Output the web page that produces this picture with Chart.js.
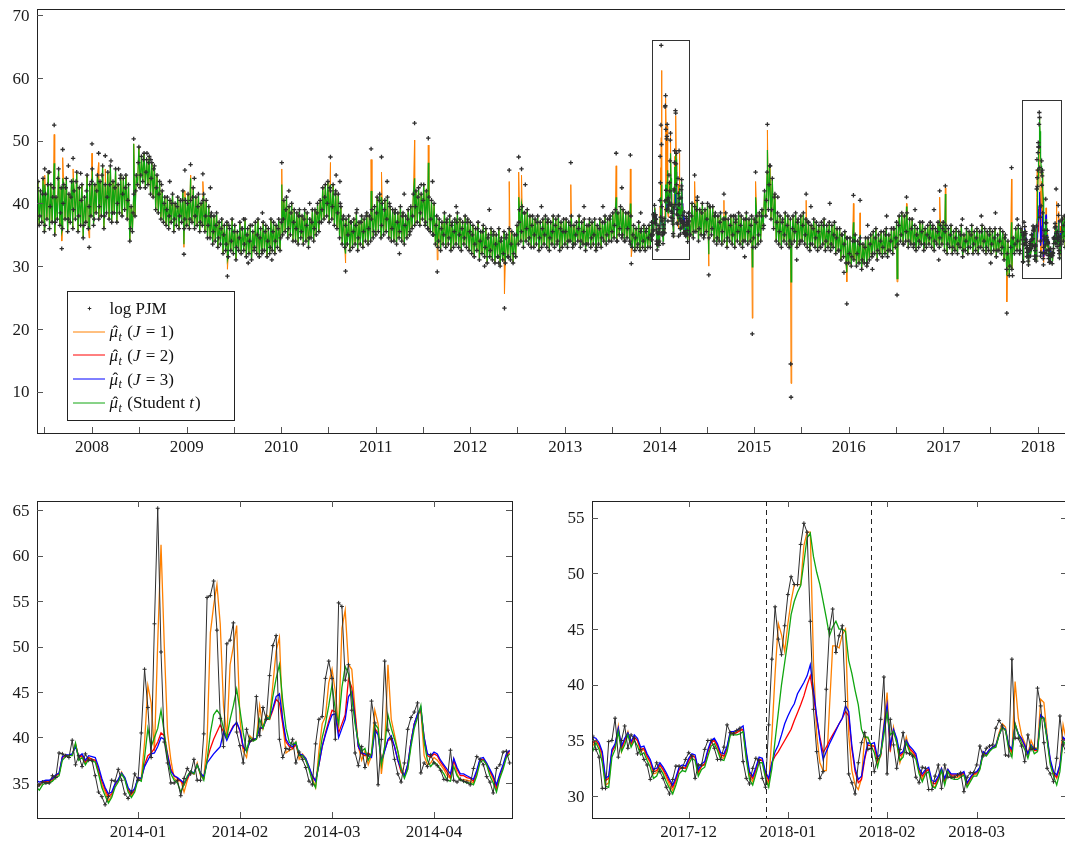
<!DOCTYPE html>
<html>
<head>
<meta charset="utf-8"/>
<title>log PJM</title>
<script src="https://cdn.jsdelivr.net/npm/chart.js"></script>
<style>
  html, body { margin: 0; padding: 0; background: #fff; overflow: hidden; }
  canvas { position: absolute; }
</style>
</head>
<body>
<canvas id="topChart" width="1080" height="470" style="left:0px;top:0px"></canvas>
<canvas id="leftChart" width="540" height="363" style="left:0px;top:480px"></canvas>
<canvas id="rightChart" width="540" height="363" style="left:540px;top:480px"></canvas>

<script>
// ---------- data ----------

// top panel: low / high edge of the log PJM band for each 10-day window outside the zoom windows
const bandAStart = '2007-06-01';
const bandALo = [
  // 2007
  37.5, 36.5, 37.0, 35.5, 37.5, 36.0, 37.0, 35.0, 37.5, 36.5, 36.0, 37.5, 35.5, 37.0, 36.0, 37.5, 35.5, 36.5, 34.5, 37.0, 36.0,
  // 2008
  38.0, 36.5, 38.5, 37.5, 38.0, 36.0, 38.5, 37.5, 37.0, 38.5, 37.0, 38.5, 38.0, 39.0, 37.5, 34.0, 35.5, 38.0, 43.0, 42.5,
  43.5, 42.5, 43.0, 41.5, 41.0, 39.0, 38.5, 37.5, 37.0, 36.5, 36.0, 37.0, 35.5, 36.5, 36.0, 37.0, 36.0,
  // 2009
  36.5, 36.0, 37.0, 36.0, 36.5, 35.5, 36.5, 35.5, 34.5, 34.5, 33.5, 34.0, 33.0, 33.5, 32.0, 32.5, 31.5, 32.5, 32.0, 31.0,
  32.5, 32.0, 32.5, 31.5, 32.0, 31.0, 32.5, 32.0, 31.5, 32.0, 32.5, 31.5, 32.0, 32.5, 32.0, 33.0, 32.5,
  // 2010
  35.0, 35.5, 34.5, 35.0, 34.0, 34.0, 33.5, 34.5, 33.5, 34.0, 33.0, 34.5, 34.0, 35.0, 35.5, 37.0, 37.5, 38.0, 37.0, 37.5,
  36.5, 36.0, 34.5, 33.5, 33.0, 33.5, 32.5, 33.0, 33.5, 32.5, 33.5, 33.0, 34.0, 33.5, 34.0, 34.5,
  // 2011
  35.0, 35.5, 34.5, 35.0, 35.5, 34.5, 34.0, 34.0, 33.5, 34.5, 34.0, 33.5, 34.5, 35.0, 36.0, 36.5, 37.0, 36.5, 37.5, 36.5,
  36.0, 35.5, 35.0, 33.5, 33.0, 32.5, 33.5, 33.0, 33.5, 32.5, 33.0, 33.5, 33.0, 32.5, 33.5, 33.0, 32.5,
  // 2012
  32.0, 31.5, 32.5, 31.0, 32.0, 31.5, 30.5, 31.5, 31.0, 30.5, 31.5, 30.0, 31.0, 30.5, 31.5, 31.0, 30.5, 31.5, 33.5, 34.0,
  33.0, 34.0, 33.5, 33.0, 33.0, 33.5, 32.5, 33.0, 33.5, 33.0, 32.5, 33.5, 33.0, 33.5, 32.5, 33.0,
  // 2013
  33.5, 33.0, 34.0, 33.0, 33.5, 34.0, 33.0, 33.5, 32.5, 33.5, 33.0, 33.5, 32.5, 33.5, 33.0, 34.0, 33.5, 34.0, 34.0, 34.5,
  34.0, 35.0, 34.5, 34.0, 34.5, 34.0, 33.0, 32.5, 33.0, 32.5, 33.0, 32.5, 33.0, 33.0
];
const bandAHi = [
  // 2007
  43.5, 42.0, 44.0, 41.5, 45.0, 43.0, 42.5, 41.0, 45.5, 42.5, 43.0, 44.0, 41.5, 43.5, 42.0, 45.0, 42.5, 43.0, 41.0, 44.5, 43.0,
  // 2008
  45.5, 43.0, 44.5, 43.5, 46.0, 43.0, 45.0, 46.0, 43.5, 45.5, 43.0, 44.5, 44.0, 44.5, 43.0, 39.5, 41.5, 44.5, 49.0, 47.5,
  48.0, 47.0, 47.5, 46.5, 46.0, 44.5, 43.5, 42.0, 41.0, 41.0, 40.5, 41.5, 40.0, 41.0, 40.5, 42.0, 40.5,
  // 2009
  41.5, 40.5, 42.5, 41.0, 41.5, 40.0, 41.5, 40.5, 39.5, 38.5, 38.0, 38.5, 37.0, 37.5, 36.5, 37.0, 36.0, 37.5, 36.5, 35.5,
  37.0, 36.0, 37.5, 36.0, 36.5, 35.5, 37.0, 37.5, 36.0, 37.0, 36.5, 36.0, 37.5, 37.0, 36.5, 37.5, 37.0,
  // 2010
  40.5, 41.0, 39.5, 40.0, 39.0, 38.5, 39.0, 38.0, 39.0, 38.5, 37.5, 39.0, 39.0, 40.0, 40.5, 42.5, 43.0, 43.5, 42.0, 43.0,
  42.0, 41.5, 39.5, 38.0, 37.5, 38.0, 37.0, 37.5, 38.5, 37.0, 38.0, 37.5, 38.5, 38.0, 39.0, 39.5,
  // 2011
  41.0, 41.5, 40.0, 40.5, 41.0, 39.5, 39.0, 39.0, 38.5, 39.5, 38.5, 38.0, 39.0, 39.5, 41.5, 42.0, 42.5, 41.5, 43.0, 42.0,
  41.0, 40.5, 40.0, 38.0, 37.5, 37.0, 38.5, 37.5, 38.0, 37.0, 37.5, 38.5, 37.5, 37.0, 38.0, 37.5, 37.0,
  // 2012
  36.5, 36.0, 37.0, 35.5, 36.5, 36.0, 35.0, 36.0, 35.5, 35.0, 36.0, 34.5, 35.5, 35.0, 36.0, 35.5, 35.0, 36.5, 39.0, 39.5,
  38.5, 39.0, 38.0, 38.0, 37.5, 38.0, 37.0, 37.5, 38.0, 37.5, 37.0, 38.0, 37.5, 38.0, 37.0, 37.5,
  // 2013
  37.5, 37.0, 38.0, 36.5, 37.0, 38.0, 37.0, 37.5, 36.5, 37.5, 37.0, 37.5, 36.5, 37.5, 37.0, 38.0, 37.5, 38.0, 38.5, 39.0,
  38.5, 39.5, 39.0, 38.5, 38.5, 38.0, 36.5, 36.0, 37.0, 36.0, 36.5, 36.0, 36.5, 37.0
];
// one more log PJM reading inside the band for each window
const bandAIn = [
  // 2007
  42.5, 38.0, 41.5, 36.5, 43.0, 39.5, 41.0, 37.0, 44.0, 38.5, 40.0, 42.5, 37.5, 41.0, 39.0, 43.5, 38.0, 40.5, 36.5, 42.0, 39.5,
  // 2008
  43.5, 37.5, 42.0, 39.5, 44.5, 38.0, 41.0, 43.0, 38.5, 42.5, 40.0, 44.0, 41.5, 42.5, 40.5, 36.0, 38.5, 42.0, 46.5, 44.5,
  47.0, 45.0, 46.5, 44.0, 45.5, 42.5, 41.5, 43.0, 40.0, 39.0, 38.0, 40.0, 37.5, 39.5, 38.0, 40.5, 37.5,
  // 2009
  40.0, 37.5, 41.0, 38.0, 39.5, 37.0, 40.5, 38.0, 36.5, 38.0, 35.5, 36.5, 34.5, 36.0, 35.0, 33.5, 36.5, 34.0, 35.5, 33.0,
  34.5, 36.0, 33.5, 35.0, 34.0, 36.5, 33.0, 35.0, 34.5, 32.5, 35.5, 34.0, 33.0, 35.5, 34.0, 36.0, 34.5,
  // 2010
  37.5, 39.0, 36.0, 38.5, 37.0, 36.0, 38.0, 35.5, 37.5, 36.5, 34.5, 37.0, 36.0, 38.5, 37.0, 39.0, 41.0, 40.0, 42.5, 39.5,
  41.5, 38.5, 40.0, 37.5, 36.5, 35.0, 37.0, 35.5, 36.5, 34.5, 37.0, 35.5, 38.0, 36.0, 37.5, 35.5,
  // 2011
  38.5, 40.5, 36.5, 39.0, 37.5, 40.0, 36.0, 38.5, 37.0, 35.5, 38.0, 36.5, 37.5, 35.5, 38.0, 39.5, 41.0, 38.5, 40.5, 37.0,
  36.0, 37.5, 35.0, 36.5, 34.0, 36.0, 35.0, 37.0, 34.5, 36.5, 35.5, 37.0, 35.0, 36.0, 34.5, 37.0, 35.5,
  // 2012
  35.0, 33.5, 36.0, 34.0, 35.5, 33.0, 34.5, 32.5, 35.0, 33.5, 31.5, 34.0, 32.0, 34.5, 31.5, 33.5, 32.0, 35.0, 37.0, 35.5,
  38.5, 36.0, 34.5, 36.5, 35.0, 37.0, 34.5, 36.0, 35.0, 37.0, 34.5, 35.5, 36.5, 34.0, 36.0, 35.5,
  // 2013
  35.5, 34.0, 36.5, 33.5, 35.0, 36.0, 34.0, 35.5, 33.5, 36.5, 34.5, 35.0, 33.0, 36.0, 34.5, 37.0, 35.0, 37.5, 35.5, 36.5,
  34.0, 36.0, 35.0, 34.0, 36.0, 33.5, 35.0, 34.5, 33.5, 35.5, 34.0, 35.5, 34.5, 35.0
];
const bandBStart = '2014-05-01';
const bandBLo = [
  // 2014
  35.0, 34.5, 35.5, 34.0, 35.0, 34.5, 35.5, 34.5, 35.0, 34.0, 33.5, 34.0, 33.5, 34.0, 33.0, 34.0, 33.5, 33.0, 34.0, 33.5,
  33.0, 34.0, 33.5, 34.0, 33.0,
  // 2015
  33.0, 33.5, 34.0, 36.0, 38.0, 39.0, 37.5, 36.0, 34.0, 33.5, 33.0, 34.0, 33.5, 33.0, 33.5, 34.0, 33.0, 33.5, 34.0, 33.5,
  33.0, 32.5, 33.5, 33.0, 32.5, 33.0, 33.5, 32.5, 33.0, 32.5, 33.0, 32.0, 32.5, 31.0, 31.5, 30.5,
  // 2016
  30.5, 30.0, 31.0, 30.0, 30.5, 29.5, 30.5, 30.0, 31.0, 31.5, 32.0, 31.0, 32.0, 31.5, 32.0, 31.5, 32.5, 32.0, 33.0, 33.5,
  34.0, 33.5, 34.0, 33.0, 33.5, 33.0, 32.5, 33.0, 33.5, 32.5, 33.0, 33.5, 33.0, 32.5, 33.5, 33.0, 33.5,
  // 2017
  32.5, 32.0, 33.0, 32.0, 32.5, 32.0, 33.0, 31.5, 32.5, 32.0, 33.0, 32.0, 32.5, 32.0, 33.0, 32.5, 32.0, 32.5, 32.0, 32.5,
  31.5, 32.5, 32.0, 31.0, 29.5, 28.5, 29.5, 32.0, 32.5, 32.0
];
const bandBHi = [
  // 2014
  40.0, 39.5, 40.5, 39.0, 40.0, 39.0, 40.0, 39.5, 39.5, 38.5, 38.0, 38.5, 37.5, 38.5, 37.5, 38.0, 38.0, 37.5, 38.5, 38.0,
  37.5, 38.5, 37.5, 38.0, 37.5,
  // 2015
  38.0, 38.5, 39.0, 42.0, 45.0, 46.0, 44.0, 41.5, 38.5, 38.0, 37.5, 38.5, 38.0, 37.5, 38.0, 38.5, 37.5, 38.0, 38.5, 37.5,
  37.0, 36.5, 37.5, 37.0, 36.5, 37.0, 37.5, 36.5, 37.0, 36.5, 37.0, 36.0, 36.0, 35.0, 35.5, 34.5,
  // 2016
  34.5, 34.0, 35.0, 34.0, 34.5, 33.5, 34.5, 34.5, 35.0, 35.5, 36.0, 35.0, 35.5, 35.5, 36.0, 35.0, 36.0, 36.0, 37.0, 38.0,
  38.5, 38.0, 38.5, 37.5, 37.5, 36.5, 36.0, 37.0, 37.0, 36.0, 36.5, 37.0, 36.5, 36.0, 37.0, 36.5, 37.0,
  // 2017
  36.5, 36.0, 36.5, 35.5, 36.0, 35.5, 36.5, 35.0, 36.0, 35.5, 36.5, 35.5, 36.0, 35.5, 36.5, 36.0, 35.5, 36.0, 35.5, 36.0,
  35.0, 36.0, 35.5, 35.0, 34.0, 33.0, 34.5, 36.0, 36.5, 36.0
];
const bandBIn = [
  // 2014
  38.0, 35.5, 39.0, 36.0, 38.5, 35.0, 37.5, 39.5, 36.0, 38.0, 34.5, 37.0, 35.5, 37.5, 34.5, 36.5, 35.0, 37.0, 35.5, 36.5,
  34.0, 37.5, 35.5, 36.5, 34.5,
  // 2015
  37.0, 35.0, 38.0, 36.5, 40.5, 43.0, 39.0, 41.0, 37.0, 35.5, 37.0, 35.0, 36.5, 34.0, 36.0, 35.5, 37.0, 34.0, 36.5, 35.0,
  37.0, 33.5, 36.0, 34.5, 35.5, 33.0, 36.5, 34.0, 35.5, 33.5, 35.0, 34.5, 32.5, 35.0, 33.5, 34.5,
  // 2016
  32.0, 31.5, 34.0, 32.0, 33.5, 31.0, 33.0, 30.5, 33.5, 32.0, 34.5, 32.5, 34.0, 33.0, 35.0, 32.5, 34.0, 36.0, 34.5, 36.5,
  35.0, 33.5, 35.5, 34.0, 36.0, 33.5, 35.0, 34.0, 35.5, 33.5, 35.0, 34.5, 36.0, 34.0, 35.5, 34.5, 36.0,
  // 2017
  35.5, 33.5, 35.0, 33.0, 34.5, 33.5, 35.0, 32.5, 34.0, 33.0, 35.0, 33.5, 34.5, 33.0, 35.5, 34.0, 33.0, 35.0, 33.5, 34.5,
  32.5, 34.0, 33.0, 34.5, 32.0, 30.0, 28.5, 33.5, 34.0, 32.5
];
const bandCStart = '2018-04-02';
const bandCLo = [33.5, 34.0, 33.0];
const bandCHi = [37.5, 38.0, 37.0];
const bandCIn = [35.5, 36.5, 34.8];

// top panel: isolated spikes (decimal year, log PJM, J=1 fit, Student t fit)
const spikeYears   = [2007.50, 2007.60, 2007.68, 2007.69, 2007.80, 2007.97, 2008.00, 2008.07, 2008.14, 2008.44,
                      2008.97, 2008.98, 2009.04, 2009.17, 2009.43, 2010.005, 2010.52, 2010.68, 2010.95, 2011.06,
                      2011.41, 2011.555, 2011.65, 2012.36, 2012.41, 2012.51, 2012.54, 2013.06, 2013.54, 2013.69,
                      2013.70, 2014.37, 2014.52, 2014.68, 2014.98, 2015.015, 2015.14, 2015.17, 2015.39, 2015.55,
                      2015.98, 2016.05, 2016.12, 2016.51, 2016.61, 2016.96, 2017.02, 2017.67, 2017.72];
const spikePjm     = [45.5, 52.5, 32.8, 48.6, 47.2, 33.0, 49.5, 48.0, 47.6, 50.3,
                      31.9, 45.3, 46.2, 44.7, 28.4, 46.5, 47.4, 29.2, 48.7, 47.4,
                      52.8, 50.4, 29.1, 23.3, 45.3, 47.4, 45.5, 46.5, 48.0, 47.7,
                      30.4, 44.5, 28.6, 41.5, 19.2, 45.0, 52.6, 46.0, 9.1, 41.5,
                      24.0, 41.3, 40.5, 25.4, 41.0, 42.0, 42.8, 22.5, 45.7];
const spikeJ1      = [44.5, 51.0, 34.0, 47.3, 45.5, 34.5, 48.0, 46.5, 45.5, 49.5,
                      33.0, 42.0, 44.5, 43.5, 29.5, 45.5, 46.5, 30.5, 47.0, 45.0,
                      50.1, 49.3, 31.0, 25.6, 43.5, 45.0, 44.5, 43.0, 46.0, 45.5,
                      31.5, 43.5, 30.0, 40.5, 21.7, 43.5, 51.7, 45.5, 11.3, 40.5,
                      27.5, 40.0, 38.5, 27.5, 40.0, 41.0, 42.5, 24.3, 43.9];
const spikeStudent = [43.0, 46.4, 35.5, 44.0, 44.0, 36.0, 44.0, 43.0, 43.0, 49.5,
                      33.5, 41.0, 44.0, 40.0, 31.0, 43.0, 43.0, 32.0, 42.0, 41.0,
                      44.0, 46.5, 33.0, 32.0, 36.0, 41.0, 40.0, 37.0, 41.0, 40.0,
                      33.0, 40.0, 32.0, 38.0, 29.9, 41.0, 48.5, 42.0, 27.5, 37.0,
                      29.0, 37.0, 35.0, 28.0, 39.5, 37.0, 41.5, 28.5, 37.0];

// top panel: scattered log PJM points off the band
const strayYears = [2007.55, 2007.75, 2007.88, 2008.20, 2008.28, 2008.58, 2008.62, 2008.82, 2009.08, 2009.25,
                    2009.60, 2009.65, 2009.80, 2009.90, 2010.08, 2010.30, 2010.58, 2010.62, 2010.80, 2011.12,
                    2011.25, 2011.30, 2011.48, 2011.60, 2011.85, 2012.15, 2012.20, 2012.30, 2012.58, 2012.75,
                    2013.20, 2013.40, 2013.60, 2013.80, 2014.40, 2014.80, 2014.90, 2015.25, 2015.387, 2015.45,
                    2015.60, 2015.80, 2015.95, 2016.20, 2016.25, 2016.40, 2016.70, 2016.90, 2016.95, 2017.20,
                    2017.40, 2017.50, 2017.55, 2017.78];
const strayPjm   = [45.0, 46.0, 44.8, 46.8, 45.5, 48.0, 47.0, 43.5, 44.0, 42.5,
                    37.5, 30.5, 38.5, 31.0, 42.0, 40.0, 44.5, 43.5, 39.0, 43.5,
                    32.0, 41.5, 43.0, 43.5, 39.5, 30.0, 39.0, 30.5, 43.0, 39.5,
                    39.5, 39.5, 42.5, 38.5, 41.0, 38.0, 31.5, 41.0, 14.4, 31.0,
                    39.5, 40.0, 29.0, 36.5, 29.5, 38.0, 39.0, 39.0, 31.0, 37.5,
                    38.0, 30.5, 38.5, 37.5];

// bottom left: daily, 2013-12-01 .. 2014-04-24
const leftStart = '2013-12-01';
const leftPjm = [
  34.2, 34.8, 35.1, 35.0, 35.0, 35.8, 35.6, 38.3, 38.2, 38.0,
  37.8, 39.7, 37.0, 38.0, 36.8, 38.2, 37.5, 37.5, 35.8, 34.0,
  33.5, 32.6, 33.5, 35.3, 35.2, 36.5, 35.3, 33.8, 33.3, 34.0,
  36.0, 35.3, 40.5, 47.5, 43.3, 37.8, 52.5, 65.2, 49.4, 39.5,
  37.2, 35.0, 35.0, 35.3, 33.6, 35.5, 36.6, 36.0, 37.6, 35.3,
  35.3, 40.4, 55.4, 55.6, 57.2, 51.8, 42.1, 39.0, 50.3, 50.7,
  52.6, 40.6, 39.1, 37.2, 40.9, 39.6, 39.8, 44.5, 40.2, 43.3,
  42.0, 46.8, 50.1, 51.2, 39.8, 37.8, 38.8, 38.7, 39.8, 37.2,
  38.4, 37.6, 36.7, 35.2, 34.8, 39.3, 42.0, 42.3, 46.5, 48.4,
  46.5, 39.8, 54.8, 54.4, 46.3, 48.0, 43.0, 38.3, 36.9, 39.0,
  36.7, 38.1, 44.0, 41.6, 34.8, 39.8, 48.4, 40.8, 39.9, 37.6,
  36.0, 35.1, 37.2, 40.9, 42.2, 42.8, 43.8, 36.1, 37.2, 36.8,
  38.1, 37.2, 36.9, 36.4, 35.4, 35.3, 38.6, 35.3, 35.1, 35.4,
  35.2, 35.1, 34.8, 36.6, 37.9, 37.6, 37.0, 35.7, 35.1, 33.9,
  36.6, 37.0, 38.4, 38.5, 37.2
];
const leftJ1 = [
  35.0, 34.7, 35.0, 35.2, 35.1, 35.3, 35.8, 36.0, 37.8, 38.1,
  38.0, 38.1, 39.3, 37.8, 38.0, 37.2, 37.8, 37.6, 37.5, 36.2,
  34.8, 34.0, 33.0, 33.6, 34.8, 35.3, 36.2, 35.5, 34.2, 33.6,
  34.2, 35.6, 35.5, 39.5, 45.7, 43.8, 38.5, 50.5, 61.2, 50.0,
  40.5, 37.5, 35.5, 35.2, 35.3, 34.0, 35.3, 36.3, 36.0, 37.2,
  35.8, 35.5, 39.5, 51.5, 54.5, 56.8, 52.5, 43.5, 40.0, 48.0,
  50.0, 52.3, 42.0, 38.5, 37.8, 40.2, 39.8, 39.8, 43.5, 41.0,
  42.5, 42.2, 45.8, 49.5, 51.0, 41.5, 38.3, 38.6, 38.7, 39.5,
  37.6, 38.2, 37.7, 36.8, 35.5, 34.5, 38.5, 41.5, 42.3, 46.0,
  47.5, 45.0, 41.0, 52.0, 54.0, 48.0, 47.5, 43.0, 39.0, 37.5,
  38.5, 37.0, 38.0, 43.0, 41.5, 36.0, 39.0, 48.0, 42.0, 40.3,
  38.5, 36.8, 35.8, 36.5, 39.5, 41.5, 42.5, 43.0, 38.0, 37.0,
  37.2, 37.8, 37.5, 37.0, 36.5, 35.8, 35.5, 37.6, 36.0, 35.3,
  35.4, 35.3, 35.2, 35.0, 36.0, 37.5, 37.6, 37.2, 36.2, 35.4,
  34.2, 35.8, 36.8, 38.0, 38.3
];
const leftJ2 = [
  35.0, 34.9, 35.1, 35.2, 35.2, 35.4, 35.8, 36.0, 37.8, 38.0,
  38.0, 38.1, 39.2, 37.8, 38.0, 37.3, 37.8, 37.6, 37.5, 36.5,
  35.2, 34.3, 33.5, 33.8, 34.8, 35.3, 36.0, 35.5, 34.3, 33.8,
  34.3, 35.5, 35.4, 37.0, 38.0, 38.3, 38.8, 39.5, 40.5, 40.2,
  38.2, 36.5, 35.8, 35.5, 35.2, 34.8, 35.5, 36.2, 36.0, 37.0,
  36.0, 35.6, 37.5, 38.8, 39.8, 40.6, 41.4, 40.6, 40.0, 40.6,
  41.3, 41.6, 40.7, 38.8, 38.6, 39.5, 39.7, 39.8, 41.0, 41.0,
  42.0, 42.0, 43.0, 44.2, 43.8, 41.5, 39.5, 39.0, 38.8, 39.2,
  38.0, 38.0, 37.5, 36.6, 35.8, 35.2, 37.0, 39.0, 40.5, 41.8,
  43.0, 42.8, 40.5, 41.5, 42.5, 46.5, 45.5, 42.5, 39.0, 38.2,
  38.0, 38.3, 38.0, 41.0, 40.5, 37.5, 38.6, 39.7, 39.8, 39.0,
  37.5, 36.2, 35.8, 37.0, 39.5, 41.5, 42.5, 43.0, 40.0, 38.0,
  37.8, 38.2, 38.0, 37.3, 36.8, 36.2, 35.6, 37.5, 36.5, 35.8,
  35.8, 35.6, 35.5, 35.2, 36.2, 37.5, 37.6, 37.0, 36.3, 35.6,
  34.5, 35.8, 36.8, 38.0, 38.5
];
const leftJ3 = [
  35.3, 35.1, 35.2, 35.3, 35.3, 35.5, 35.9, 36.1, 37.9, 38.1,
  38.1, 38.2, 39.0, 37.9, 38.2, 37.5, 38.0, 37.9, 37.8, 36.8,
  35.5, 34.5, 33.8, 34.0, 34.9, 35.4, 36.1, 35.6, 34.5, 34.0,
  34.4, 35.6, 35.5, 36.8, 37.5, 38.2, 38.3, 39.0, 40.0, 39.8,
  38.0, 36.3, 35.8, 35.6, 35.3, 35.0, 35.6, 36.3, 36.1, 37.0,
  36.1, 35.7, 37.2, 37.7, 38.2, 38.6, 39.0, 40.6, 39.7, 40.5,
  41.2, 41.7, 40.8, 39.0, 38.5, 39.5, 39.8, 39.9, 41.0, 41.1,
  42.0, 42.2, 43.2, 44.5, 44.8, 42.0, 39.8, 39.2, 39.0, 39.4,
  38.2, 38.1, 37.7, 36.8, 35.8, 35.2, 37.0, 39.0, 40.3, 41.5,
  42.5, 42.6, 40.0, 41.0, 42.0, 44.5, 45.0, 42.0, 39.0, 38.3,
  38.2, 38.0, 37.8, 40.8, 40.3, 37.3, 38.5, 39.8, 40.2, 39.0,
  37.5, 36.5, 35.8, 37.0, 39.5, 41.5, 42.6, 43.3, 40.0, 38.2,
  38.0, 38.4, 38.2, 37.5, 37.0, 36.5, 36.0, 37.7, 36.7, 36.0,
  36.0, 35.8, 35.6, 35.4, 36.4, 37.7, 37.8, 37.2, 36.5, 35.8,
  34.8, 36.0, 37.0, 38.2, 38.6
];
const leftStudent = [
  34.6, 34.2, 34.8, 35.0, 35.0, 35.2, 35.6, 35.8, 37.5, 37.9,
  38.0, 38.0, 39.4, 37.5, 37.8, 37.0, 37.6, 37.4, 37.3, 36.0,
  34.5, 33.6, 32.8, 33.4, 34.5, 35.1, 36.0, 35.4, 34.0, 33.4,
  34.0, 35.4, 35.2, 37.8, 41.0, 39.0, 40.0, 41.0, 43.0, 40.5,
  37.5, 36.0, 35.3, 35.0, 34.0, 34.8, 35.8, 36.3, 36.0, 37.0,
  36.0, 35.3, 37.5, 40.5, 42.5, 43.0, 42.5, 41.0, 40.0, 42.0,
  43.5, 45.3, 43.0, 40.5, 38.5, 40.0, 39.6, 39.8, 42.0, 41.0,
  42.3, 42.0, 44.5, 46.5, 48.0, 44.0, 41.0, 39.5, 39.2, 39.5,
  38.0, 38.0, 37.5, 36.5, 35.2, 34.5, 37.5, 40.0, 41.5, 43.5,
  45.8, 43.0, 41.5, 45.5, 47.8, 47.0, 44.5, 41.5, 39.5, 38.5,
  38.8, 37.5, 38.3, 41.5, 41.0, 37.0, 39.0, 42.5, 41.0, 39.8,
  38.5, 36.5, 35.5, 36.5, 39.0, 41.0, 42.2, 43.5, 39.5, 37.5,
  36.8, 37.3, 37.0, 36.5, 36.0, 35.3, 35.2, 36.8, 35.8, 35.3,
  35.2, 35.0, 35.0, 34.8, 35.8, 37.3, 37.5, 37.0, 35.8, 35.0,
  34.0, 35.5, 36.5, 37.8, 38.2
];

// bottom right: daily, 2017-11-01 .. 2018-03-29
const rightStart = '2017-11-01';
const rightPjm = [
  35.4, 34.2, 33.5, 30.7, 30.7, 34.9, 35.0, 37.0, 33.5, 35.0,
  36.3, 34.3, 35.5, 35.2, 33.8, 34.2, 33.3, 32.8, 31.5, 32.2,
  33.0, 32.2, 31.6, 30.8, 30.2, 31.5, 32.7, 32.7, 32.5, 33.3,
  33.9, 33.6, 31.6, 32.8, 32.8, 34.2, 35.0, 35.0, 34.3, 33.3,
  33.3, 34.4, 36.4, 35.7, 35.6, 35.9, 36.1, 33.1, 31.6, 31.1,
  32.5, 33.4, 33.2, 31.6, 30.8, 36.4, 42.3, 47.0, 44.1, 42.7,
  45.3, 48.1, 49.7, 49.0, 49.0, 52.6, 54.5, 53.7, 45.7, 37.8,
  34.0, 31.6, 32.2, 39.6, 45.0, 46.8, 42.9, 44.4, 45.3, 38.5,
  32.0, 31.2, 30.2, 33.0, 34.8, 35.7, 34.2, 34.3, 32.2, 33.4,
  36.9, 40.7, 32.0, 36.9, 34.6, 32.5, 34.2, 35.7, 33.9, 33.8,
  33.6, 31.7, 31.2, 32.6, 32.5, 30.6, 30.6, 31.8, 32.8, 30.7,
  32.8, 31.7, 31.7, 31.7, 31.9, 32.1, 30.4, 31.7, 32.1, 32.1,
  32.8, 34.5, 33.6, 34.3, 34.5, 34.6, 36.1, 36.8, 36.3, 33.7,
  33.6, 42.3, 35.2, 35.2, 34.5, 33.1, 35.5, 34.2, 34.3, 39.7,
  38.1, 34.8, 32.5, 32.0, 31.3, 33.4, 37.2, 34.6, 33.9
];
const rightJ1 = [
  34.5, 35.0, 34.5, 33.5, 31.0, 31.2, 34.0, 34.5, 36.3, 34.0,
  35.0, 35.8, 34.6, 35.3, 35.0, 34.0, 34.2, 33.5, 33.0, 32.0,
  32.1, 32.8, 32.3, 31.7, 31.0, 30.5, 31.3, 32.4, 32.6, 32.5,
  33.2, 33.7, 33.5, 32.0, 32.7, 32.8, 34.0, 34.8, 35.0, 34.4,
  33.5, 33.4, 34.3, 35.8, 35.7, 35.7, 35.9, 36.0, 33.5, 31.8,
  31.3, 32.3, 33.3, 33.2, 31.8, 31.0, 35.5, 41.0, 45.5, 44.5,
  43.0, 45.5, 47.5, 49.0, 49.0, 49.0, 52.5, 53.7, 53.7, 42.0,
  35.5, 33.0, 32.3, 32.3, 38.0, 43.5, 43.5, 43.3, 44.5, 45.0,
  35.5, 32.3, 31.0, 30.6, 31.6, 35.4, 35.2, 34.6, 34.5, 33.0,
  33.8, 36.5, 39.3, 34.0, 36.2, 34.8, 33.0, 34.0, 35.3, 34.2,
  33.8, 33.5, 32.2, 31.5, 32.3, 32.4, 31.0, 30.8, 31.6, 32.5,
  31.2, 32.4, 31.8, 31.7, 31.7, 31.8, 32.0, 30.9, 31.5, 31.9,
  32.0, 32.6, 34.0, 33.8, 34.2, 34.4, 34.6, 35.7, 36.5, 36.2,
  34.4, 33.8, 40.3, 37.0, 35.5, 34.8, 33.8, 35.0, 34.3, 34.3,
  38.7, 38.4, 35.5, 33.0, 32.2, 31.6, 32.8, 36.4, 35.0
];
const rightJ2 = [
  34.8, 35.0, 34.6, 33.8, 31.4, 31.6, 34.0, 34.5, 36.0, 34.3,
  35.0, 35.6, 34.7, 35.3, 35.0, 34.2, 34.3, 33.6, 33.1, 32.2,
  32.3, 32.8, 32.4, 31.9, 31.3, 30.8, 31.5, 32.4, 32.6, 32.5,
  33.2, 33.6, 33.5, 32.2, 32.7, 32.9, 34.0, 34.8, 35.0, 34.5,
  33.7, 33.6, 34.3, 35.6, 35.6, 35.7, 35.9, 36.0, 33.8, 32.0,
  31.6, 32.4, 33.3, 33.2, 32.0, 31.4, 33.0, 33.6, 34.0, 34.5,
  35.0, 35.5, 36.0, 36.8, 37.5, 38.2, 39.0, 40.0, 40.8, 39.0,
  37.0, 35.3, 33.9, 34.4, 35.0, 35.5, 36.0, 36.5, 37.0, 37.6,
  37.2, 34.2, 32.2, 31.2, 31.5, 33.3, 34.6, 34.5, 34.5, 33.2,
  33.6, 36.0, 38.0, 34.3, 35.9, 35.0, 33.6, 33.9, 34.9, 34.3,
  34.0, 33.6, 32.3, 31.8, 32.2, 32.4, 31.2, 31.1, 31.6, 32.4,
  31.4, 32.3, 31.9, 31.9, 31.9, 31.9, 32.1, 31.1, 31.6, 32.0,
  32.1, 32.5, 33.9, 33.7, 34.1, 34.4, 34.5, 35.5, 36.2, 35.9,
  34.5, 34.0, 36.5, 35.6, 35.1, 34.5, 33.7, 34.5, 34.1, 34.1,
  37.2, 37.0, 35.2, 33.1, 32.0, 31.7, 32.6, 35.2, 34.9
];
const rightJ3 = [
  35.3, 35.2, 34.8, 34.0, 31.6, 31.8, 34.2, 34.7, 36.1, 34.5,
  35.2, 35.7, 34.9, 35.5, 35.2, 34.4, 34.5, 33.8, 33.3, 32.4,
  32.5, 33.0, 32.6, 32.1, 31.5, 31.0, 31.7, 32.6, 32.8, 32.7,
  33.4, 33.8, 33.7, 32.4, 32.9, 33.1, 34.2, 35.0, 35.2, 34.7,
  33.9, 33.8, 34.5, 35.8, 35.8, 35.9, 36.1, 36.3, 34.0, 32.2,
  31.8, 32.6, 33.5, 33.4, 32.2, 31.6, 33.0, 34.0, 34.6, 35.5,
  36.5, 37.2, 37.8, 38.3, 39.2, 39.7, 40.2, 40.8, 41.8, 39.5,
  37.2, 35.0, 33.3, 34.0, 34.7, 35.3, 35.9, 36.5, 37.0, 38.1,
  37.6, 34.5, 32.5, 31.5, 31.8, 33.5, 34.8, 34.7, 34.8, 33.5,
  33.8, 36.2, 38.2, 34.5, 36.0, 35.2, 33.8, 34.0, 35.0, 34.5,
  34.2, 33.8, 32.5, 32.0, 32.4, 32.6, 31.4, 31.3, 31.8, 32.5,
  31.6, 32.4, 32.0, 32.0, 32.0, 32.0, 32.2, 31.2, 31.7, 32.1,
  32.2, 32.6, 34.0, 33.8, 34.2, 34.4, 34.6, 35.5, 36.2, 36.0,
  34.6, 34.2, 36.4, 35.6, 35.2, 34.6, 33.8, 34.6, 34.2, 34.2,
  37.3, 37.0, 35.3, 33.3, 32.2, 31.9, 32.8, 35.3, 35.0
];
const rightStudent = [
  34.0, 34.8, 34.2, 33.0, 30.9, 30.8, 33.5, 34.2, 35.8, 34.0,
  34.6, 35.5, 34.4, 35.0, 34.5, 33.7, 33.9, 33.2, 32.6, 31.6,
  31.8, 32.5, 32.0, 31.3, 30.7, 30.2, 31.0, 32.0, 32.3, 32.2,
  32.9, 33.4, 33.2, 31.8, 32.4, 32.6, 33.6, 34.5, 34.7, 34.1,
  33.3, 33.2, 34.0, 35.5, 35.5, 35.5, 35.6, 35.8, 33.3, 31.5,
  31.0, 32.0, 33.0, 33.0, 31.6, 30.8, 32.5, 35.0, 37.5, 40.0,
  42.0, 44.0, 46.3, 47.5, 48.3, 48.9, 51.0, 53.2, 53.6, 51.5,
  50.1, 49.0, 47.5, 46.0, 44.4, 45.2, 45.7, 45.0, 45.0, 44.8,
  42.2, 41.0, 39.5, 38.2, 36.0, 35.3, 35.3, 34.5, 33.9, 32.6,
  33.8, 35.5, 37.5, 35.5, 35.8, 34.8, 33.2, 33.5, 34.8, 34.0,
  33.7, 33.3, 32.0, 31.3, 32.0, 32.2, 30.9, 30.7, 31.4, 32.3,
  31.0, 32.2, 31.6, 31.5, 31.5, 31.7, 31.9, 30.8, 31.3, 31.8,
  31.8, 32.4, 33.8, 33.6, 34.0, 34.3, 34.4, 35.5, 36.2, 35.9,
  34.2, 33.5, 36.5, 35.5, 34.8, 34.2, 33.4, 34.5, 33.8, 34.0,
  37.0, 37.0, 35.0, 32.8, 31.8, 31.0, 32.2, 35.0, 34.5
];
const rightEvents = ['2017-12-25', '2018-01-27'];

// axes
const topYears = ['2008', '2009', '2010', '2011', '2012', '2013', '2014', '2015', '2016', '2017', '2018'];
const topYTicks = [10, 20, 30, 40, 50, 60, 70];
const leftMonths = ['2014-01', '2014-02', '2014-03', '2014-04'];
const leftYTicks = [35, 40, 45, 50, 55, 60, 65];
const rightMonths = ['2017-12', '2018-01', '2018-02', '2018-03'];
const rightYTicks = [30, 35, 40, 45, 50, 55];

const legendLabels = [
  [['(', 0], ['J', 1], [' = 1)', 0]],
  [['(', 0], ['J', 1], [' = 2)', 0]],
  [['(', 0], ['J', 1], [' = 3)', 0]],
  [['(Student ', 0], ['t', 1], [')', 0]]
];

const C_PJM = '#2e2e2e', C_J1 = '#ff8000', C_J2 = '#ff0000', C_J3 = '#0000ff', C_ST = '#10a610';
const FONT = '17px "Liberation Serif", "Times New Roman", serif';
const FONT_IT = 'italic 17px "Liberation Serif", "Times New Roman", serif';

// ---------- helpers ----------
function dayNum(s) {
  const p = s.split('-').map(Number);
  return Date.UTC(p[0], p[1] - 1, p[2] || 1) / 86400000;
}
function yearToDay(yr) {
  const y = Math.floor(yr);
  const a = Date.UTC(y, 0, 1) / 86400000, b = Date.UTC(y + 1, 0, 1) / 86400000;
  return a + (yr - y) * (b - a);
}
function series(start, step, values) {
  const d0 = dayNum(start);
  return values.map((v, i) => ({ x: d0 + i * step, y: v }));
}
// zig-zag between the low and high edge of each window
function bandSeries(start, step, lo, hi) {
  const d0 = dayNum(start), pts = [];
  lo.forEach((v, i) => {
    pts.push({ x: d0 + i * step, y: v });
    if (hi[i] != null) pts.push({ x: d0 + i * step + step / 2, y: hi[i] });
  });
  return pts;
}
function inner(start, step, values) {
  const d0 = dayNum(start);
  return values.map((v, i) => ({ x: d0 + i * step + step * 0.25, y: v }));
}
function atYears(years, values) {
  return years.map((yr, i) => values[i] == null ? null : { x: yearToDay(yr), y: values[i] }).filter(Boolean);
}
function merged(parts) {
  return [].concat(...parts).sort((a, b) => a.x - b.x);
}

function drawCross(ctx, x, y, r) {
  ctx.beginPath();
  ctx.moveTo(x - r, y); ctx.lineTo(x + r, y);
  ctx.moveTo(x, y - r); ctx.lineTo(x, y + r);
  ctx.stroke();
}

function axesPlugin(o) {
  return {
    id: 'axes',
    afterDatasetsDraw(chart) {
      const ctx = chart.ctx, a = chart.chartArea, x = chart.scales.x, y = chart.scales.y;
      ctx.save();
      if (o.extra) o.extra(chart, ctx);
      ctx.strokeStyle = '#222';
      ctx.lineWidth = 1;
      ctx.strokeRect(Math.round(a.left) + 0.5, Math.round(a.top) + 0.5,
                     Math.round(a.right - a.left), Math.round(a.bottom - a.top));
      ctx.strokeStyle = '#555';
      const tl = 6;
      ctx.beginPath();
      o.xTicks.concat(o.xMinor || []).forEach(v => {
        const px = Math.round(x.getPixelForValue(v)) + 0.5;
        if (px < a.left || px > a.right) return;
        ctx.moveTo(px, a.bottom); ctx.lineTo(px, a.bottom - tl);
        if (o.mirror) { ctx.moveTo(px, a.top); ctx.lineTo(px, a.top + tl); }
      });
      o.yTicks.forEach(v => {
        const py = Math.round(y.getPixelForValue(v)) + 0.5;
        ctx.moveTo(a.left, py); ctx.lineTo(a.left + tl, py);
        if (o.mirror) { ctx.moveTo(a.right, py); ctx.lineTo(a.right - tl, py); }
      });
      ctx.stroke();

      ctx.fillStyle = '#1a1a1a';
      ctx.font = FONT;
      ctx.textBaseline = 'alphabetic';
      ctx.textAlign = 'center';
      o.xTicks.forEach((v, i) => ctx.fillText(o.xLabels[i], x.getPixelForValue(v), a.bottom + o.xLabelDy));
      ctx.textAlign = 'right';
      o.yTicks.forEach(v => ctx.fillText(String(v), a.left - 7.5, y.getPixelForValue(v) + 5.7));
      ctx.restore();
    }
  };
}

function baseOptions(xr, yr, pad) {
  return {
    responsive: false,
    animation: false,
    devicePixelRatio: 1,
    events: [],
    layout: { padding: pad },
    plugins: { legend: { display: false }, tooltip: { enabled: false } },
    elements: { line: { tension: 0, fill: false } },
    scales: {
      x: { type: 'linear', display: false, min: xr[0], max: xr[1] },
      y: { type: 'linear', display: false, min: yr[0], max: yr[1] }
    }
  };
}

function lineSet(data, color, width, order) {
  return { data, borderColor: color, borderWidth: width, pointRadius: 0, order, spanGaps: false };
}
function pjmSet(data, showLine, r, pw) {
  return {
    data, showLine, borderColor: C_PJM, backgroundColor: C_PJM, borderWidth: 1,
    pointStyle: 'cross', pointRadius: r, pointBorderWidth: pw, pointBorderColor: C_PJM, order: 0
  };
}

// ---------- ranges ----------
const pxPerDayTop = 946 / (dayNum('2018-01-01') - dayNum('2008-01-01'));
const topX0 = dayNum('2008-01-01') - 55 / pxPerDayTop;
const topRange = [topX0, topX0 + 1030 / pxPerDayTop];

const leftX0 = dayNum('2014-01-01') - 101 / 3.289;
const leftRange = [leftX0, leftX0 + 475 / 3.289];
const leftY = [31.15, 66.0];

const rightX0 = dayNum('2017-12-01') - 96.7 / 3.2;
const rightRange = [rightX0, rightX0 + 475 / 3.2];
const rightY = [28.04, 56.5];

// ---------- top chart ----------
const segA = bandSeries(bandAStart, 10, bandALo, bandAHi);
const segB = bandSeries(bandBStart, 10, bandBLo, bandBHi);
const segC = bandSeries(bandCStart, 7, bandCLo, bandCHi);
const win1 = v => series(leftStart, 1, v);
const win2 = v => series(rightStart, 1, v);
const gap = [{ x: dayNum('2016-01-01'), y: null }];

const topPjm = merged([segA, win1(leftPjm), segB, win2(rightPjm), segC,
                       inner(bandAStart, 10, bandAIn), inner(bandBStart, 10, bandBIn), inner(bandCStart, 7, bandCIn),
                       atYears(spikeYears, spikePjm), atYears(strayYears, strayPjm)]);
const topJ1 = merged([segA, win1(leftJ1), segB, win2(rightJ1), segC, atYears(spikeYears, spikeJ1)]);
const topStudent = merged([segA, win1(leftStudent), segB, win2(rightStudent), segC, atYears(spikeYears, spikeStudent)]);
const topJ2 = [].concat(win1(leftJ2), gap, win2(rightJ2));
const topJ3 = [].concat(win1(leftJ3), gap, win2(rightJ3));

function drawLegend(ctx) {
  const bx = 67.5, by = 291.5, bw = 167, bh = 129;
  ctx.fillStyle = '#fff';
  ctx.fillRect(bx, by, bw, bh);
  ctx.strokeStyle = '#222';
  ctx.lineWidth = 1;
  ctx.strokeRect(bx, by, bw, bh);
  const rows = [308, 331.7, 355.3, 379, 402.7];
  const colors = [C_J1, C_J2, C_J3, C_ST];
  ctx.strokeStyle = C_PJM;
  drawCross(ctx, 89.5, 308.5, 1.8);
  ctx.fillStyle = '#111';
  ctx.textAlign = 'left';
  ctx.textBaseline = 'alphabetic';
  ctx.font = FONT;
  ctx.fillText('log PJM', 109.5, rows[0] + 5.7);
  legendLabels.forEach((parts, i) => {
    const ly = Math.round(rows[i + 1]);
    ctx.strokeStyle = colors[i];
    ctx.beginPath(); ctx.moveTo(73, ly); ctx.lineTo(105, ly); ctx.stroke();
    const base = rows[i + 1] + 5.7;
    let cx = 109.5;
    ctx.font = FONT_IT;
    ctx.fillText('\u03bc', cx, base);
    const mw = ctx.measureText('\u03bc').width;
    ctx.font = FONT;
    ctx.textAlign = 'center';
    ctx.fillText('\u02c6', cx + mw / 2 + 1.5, base - 0.5);
    ctx.textAlign = 'left';
    ctx.font = 'italic 12px "Liberation Serif", serif';
    ctx.fillText('t', cx + mw + 0.5, base + 3.5);
    cx += mw + 0.5 + ctx.measureText('t').width + 5.5;
    parts.forEach(([txt, it]) => {
      ctx.font = it ? FONT_IT : FONT;
      ctx.fillText(txt, cx, base);
      cx += ctx.measureText(txt).width + (it ? 1 : 0);
    });
  });
}

new Chart(document.getElementById('topChart'), {
  type: 'line',
  data: {
    datasets: [
      pjmSet(topPjm, false, 2.2, 1.3),
      lineSet(topStudent, C_ST, 1.2, 1),
      lineSet(topJ3, C_J3, 1, 2),
      lineSet(topJ2, C_J2, 1, 3),
      lineSet(topJ1, C_J1, 1, 4)
    ]
  },
  options: baseOptions(topRange, [3.4, 71.0], { left: 37, right: 13, top: 9, bottom: 37 }),
  plugins: [axesPlugin({
    xTicks: topYears.map(y => dayNum(y + '-01-01')),
    xMinor: topYears.map(y => dayNum((+y - 1) + '-07-01')),
    xLabels: topYears,
    xLabelDy: 19,
    yTicks: topYTicks,
    mirror: false,
    extra(chart, ctx) {
      const x = chart.scales.x, y = chart.scales.y;
      ctx.strokeStyle = '#333';
      ctx.lineWidth = 1;
      [[leftRange, leftY], [rightRange, rightY]].forEach(([xr, yr]) => {
        const x0 = Math.round(x.getPixelForValue(xr[0])) + 0.5, x1 = Math.round(x.getPixelForValue(xr[1])) + 0.5;
        const y0 = Math.round(y.getPixelForValue(yr[1])) + 0.5, y1 = Math.round(y.getPixelForValue(yr[0])) + 0.5;
        ctx.strokeRect(x0, y0, x1 - x0, y1 - y0);
      });
      drawLegend(ctx);
    }
  })]
});

// ---------- bottom charts ----------
function panel(id, start, arrays, xr, yr, pad, months, yTicks, extra) {
  const pts = v => series(start, 1, v);
  new Chart(document.getElementById(id), {
    type: 'line',
    data: {
      datasets: [
        pjmSet(pts(arrays.pjm), true, 2, 1),
        lineSet(pts(arrays.st), C_ST, 1.3, 1),
        lineSet(pts(arrays.j3), C_J3, 1.3, 2),
        lineSet(pts(arrays.j2), C_J2, 1.3, 3),
        lineSet(pts(arrays.j1), C_J1, 1.3, 4)
      ]
    },
    options: baseOptions(xr, yr, pad),
    plugins: [axesPlugin({
      xTicks: months.map(m => dayNum(m + '-01')),
      xLabels: months,
      xLabelDy: 18.5,
      yTicks,
      mirror: true,
      extra
    })]
  });
}

panel('leftChart', leftStart,
  { pjm: leftPjm, j1: leftJ1, j2: leftJ2, j3: leftJ3, st: leftStudent },
  leftRange, leftY, { left: 37, right: 28, top: 21, bottom: 25 }, leftMonths, leftYTicks);

panel('rightChart', rightStart,
  { pjm: rightPjm, j1: rightJ1, j2: rightJ2, j3: rightJ3, st: rightStudent },
  rightRange, rightY, { left: 52, right: 13, top: 21, bottom: 25 }, rightMonths, rightYTicks,
  function (chart, ctx) {
    const a = chart.chartArea, x = chart.scales.x;
    ctx.strokeStyle = '#222';
    ctx.lineWidth = 1;
    ctx.setLineDash([5, 4]);
    rightEvents.forEach(d => {
      const px = Math.round(x.getPixelForValue(dayNum(d))) + 0.5;
      ctx.beginPath(); ctx.moveTo(px, a.top); ctx.lineTo(px, a.bottom); ctx.stroke();
    });
    ctx.setLineDash([]);
  });
</script>
</body>
</html>
